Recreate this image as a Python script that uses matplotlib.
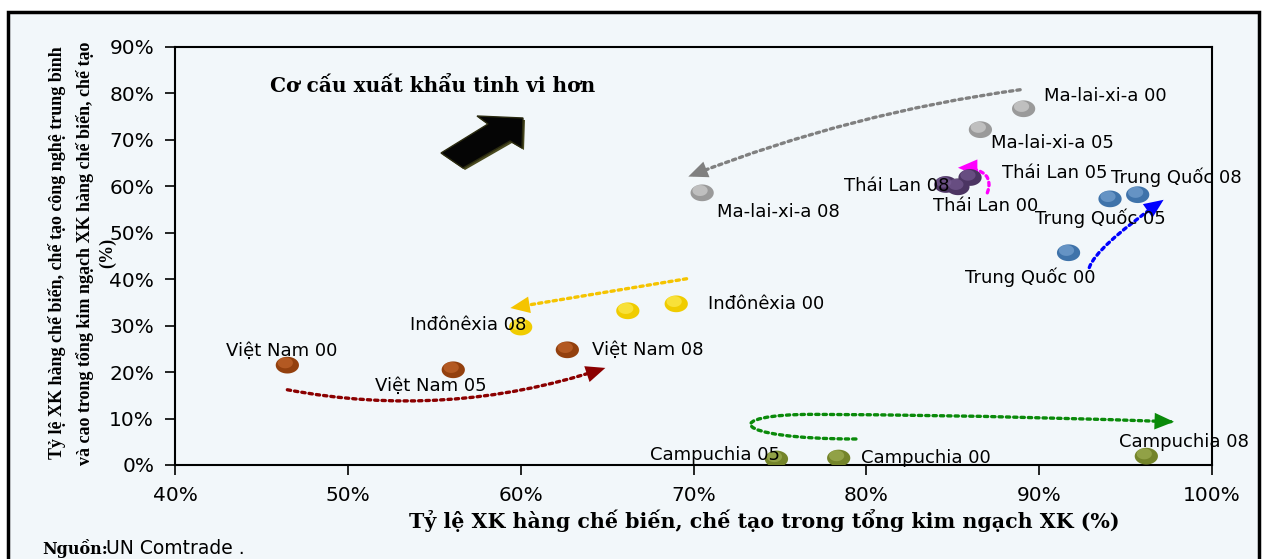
import numpy as np
import matplotlib.pyplot as plt
from matplotlib.patches import Rectangle, Polygon, FancyArrowPatch
from matplotlib.path import Path
from matplotlib.ticker import FuncFormatter

# data: share of manufactured exports (x) and medium/high-tech share (y), %
labels = ['Việt Nam 00', 'Việt Nam 05', 'Việt Nam 08',
          'Inđônêxia 00', '', 'Inđônêxia 08',
          'Ma-lai-xi-a 00', 'Ma-lai-xi-a 05', 'Ma-lai-xi-a 08',
          'Thái Lan 00', 'Thái Lan 05', 'Thái Lan 08',
          'Trung Quốc 00', 'Trung Quốc 05', 'Trung Quốc 08',
          'Campuchia 00', 'Campuchia 05', 'Campuchia 08']
x_manuf = [46.5, 56.1, 62.7,
           69.0, 66.2, 60.0,
           89.1, 86.6, 70.5,
           85.3, 86.0, 84.6,
           91.7, 94.1, 95.7,
           78.4, 74.8, 96.2]
y_tech = [21.5, 20.5, 24.8,
          34.7, 33.2, 29.7,
          76.7, 72.2, 58.6,
          59.9, 61.9, 60.4,
          45.7, 57.3, 58.2,
          1.5, 1.3, 1.9]
group = ['vn'] * 3 + ['id'] * 3 + ['my'] * 3 + ['th'] * 3 + ['cn'] * 3 + ['kh'] * 3

# styling
ball_col = {'vn': '#93400e', 'id': '#f0cc00', 'my': '#9a9a9a',
            'th': '#4b3462', 'cn': '#3f73aa', 'kh': '#74842a'}
hi_col = {'vn': '#c96a30', 'id': '#fff060', 'my': '#d8d8d8',
          'th': '#7a5f96', 'cn': '#7fa9d6', 'kh': '#a6b65a'}
# label offsets from the ball, pixels
lab_off = [(-61, 14), (-78, -16), (25, 0),
           (32, 0), (0, 0), (-111, 2),
           (20, 13), (11, -13), (15, -19),
           (-25, -19), (32, 5), (-102, -2),
           (-104, -25), (-75, -19), (-27, 17),
           (22, 0), (-126, 4), (-27, 14)]

# trend arrows (start -> end, in data units), connection style and colour
arrows = [((88.9, 80.8), (69.7, 62.1), 'arc3,rad=0.06', '#808080'),
          ((69.6, 40.1), (59.4, 33.8), 'arc3,rad=0', '#f5c400'),
          ((46.5, 16.2), (64.9, 20.9), 'arc3,rad=0.13', '#8b0000'),
          ((87.0, 58.6), (85.3, 64.0), 'angle3,angleA=70,angleB=0', '#ff00ff'),
          ((92.9, 42.5), (97.2, 57.1), 'angle3,angleA=72,angleB=35', '#0000ff')]
green_path = [(79.4, 5.6), (72.0, 5.6), (71.5, 11.0), (77.0, 10.9),
              (87.0, 10.7), (93.0, 9.9), (97.8, 9.3)]

bg = '#f2f7fa'
fig = plt.figure(figsize=(12.64, 5.59), dpi=100, facecolor='white')
fig.patches.append(Rectangle((8 / 1264, -0.05), 1251 / 1264, 1 - 12 / 559 + 0.05,
                             transform=fig.transFigure, facecolor=bg, edgecolor='black',
                             linewidth=2.5, zorder=-5))
ax = fig.add_axes([175 / 1264, 1 - 465 / 559, 1037 / 1264, 418 / 559])
ax.set_facecolor(bg)
ax.set_xlim(40, 100)
ax.set_ylim(0, 90)
ax.set_xticks(np.arange(40, 101, 10))
ax.set_yticks(np.arange(0, 91, 10))
pct = FuncFormatter(lambda v, p: '%d%%' % v)
ax.xaxis.set_major_formatter(pct)
ax.yaxis.set_major_formatter(pct)
ax.tick_params(direction='out', length=7, width=1.2, labelsize=14.5)
ax.tick_params(axis='y', pad=8)
ax.tick_params(axis='x', pad=8)
for s in ax.spines.values():
    s.set_linewidth(1.5)

# elliptical balls with a highlight
t = np.linspace(0, 2 * np.pi, 60)
ell = Path(np.column_stack([np.cos(t), 0.72 * np.sin(t)]), closed=True)
for gname in ball_col:
    xs = np.array([x for x, g in zip(x_manuf, group) if g == gname])
    ys = np.array([y for y, g in zip(y_tech, group) if g == gname])
    ax.scatter(xs, ys, s=280, marker=ell, color=ball_col[gname], edgecolor='none', zorder=3)
    ax.scatter(xs - 0.12, ys + 0.5, s=120, marker=ell, color=hi_col[gname],
               edgecolor='none', alpha=0.6, zorder=4)

for lab, x, y, off in zip(labels, x_manuf, y_tech, lab_off):
    if lab:
        ax.annotate(lab, (x, y), xytext=off, textcoords='offset pixels',
                    fontsize=13, va='center', ha='left', zorder=5,
                    fontfamily='DejaVu Sans')

# dotted body drawn on its own, solid filled head on top
dot = (0, (1, 1.2))
head = '-|>,head_length=1.4,head_width=0.6'
for (p0, p1, cs, c) in arrows:
    ax.annotate('', xy=p1, xytext=p0,
                arrowprops=dict(arrowstyle='-', color=c, lw=2.4, linestyle=dot,
                                shrinkA=0, shrinkB=4, connectionstyle=cs), zorder=2)
    ax.annotate('', xy=p1, xytext=p0,
                arrowprops=dict(arrowstyle=head, facecolor=c, edgecolor='none', lw=0,
                                shrinkA=0, shrinkB=0, connectionstyle=cs), zorder=2)

codes = [Path.MOVETO, Path.CURVE4, Path.CURVE4, Path.CURVE4,
         Path.CURVE4, Path.CURVE4, Path.CURVE4]
gpath = Path(green_path, codes)
ax.add_patch(FancyArrowPatch(path=gpath, transform=ax.transData, arrowstyle='-',
                             color='#0a8a0a', lw=2.4, linestyle=dot, zorder=2))
ax.add_patch(FancyArrowPatch(path=gpath, transform=ax.transData, arrowstyle=head,
                             mutation_scale=10, facecolor='#0a8a0a', edgecolor='none',
                             lw=0, zorder=2))

# big black arrow (pixels)
arrow_px = [(441, 153), (488, 124), (477, 116), (523, 118), (522, 148), (510, 141), (463, 168)]
ax_tr = fig.dpi_scale_trans
arrow_in = [(px / 100, (559 - py) / 100) for px, py in arrow_px]
fig.patches.append(Polygon([(a + 0.02, b - 0.02) for a, b in arrow_in], closed=True,
                           transform=ax_tr, facecolor='#4a4a20', edgecolor='none', zorder=6))
fig.patches.append(Polygon(arrow_in, closed=True, transform=ax_tr,
                           facecolor='#050505', edgecolor='#2a2a10', linewidth=1, zorder=7))

ax.text(45.5, 81.5, 'Cơ cấu xuất khẩu tinh vi hơn', fontsize=14.5, fontweight='bold',
        fontfamily='DejaVu Serif', va='center', ha='left')

fig.text(764 / 1264, 1 - 521 / 559,
         'Tỷ lệ XK hàng chế biến, chế tạo trong tổng kim ngạch XK (%)',
         fontsize=14.8, fontweight='bold', fontfamily='DejaVu Serif',
         ha='center', va='center')

ylab_lines = ['Tỷ lệ XK hàng chế biến, chế tạo công nghệ trung bình',
              'và cao trong tổng kim ngạch XK hàng chế biến, chế tạo', '(%)']
for line, px in zip(ylab_lines, [57, 85, 108]):
    fig.text(px / 1264, 1 - 253 / 559, line, rotation=90, fontsize=13,
             fontweight='bold', fontfamily='Liberation Serif', ha='center', va='center')

fig.text(42 / 1264, 1 - 549 / 559, 'Nguồn:', fontsize=11.5, fontweight='bold',
         fontfamily='DejaVu Serif', va='center')
fig.text(106 / 1264, 1 - 549 / 559, 'UN Comtrade .', fontsize=13.5,
         fontfamily='DejaVu Sans', va='center')

fig.savefig('out.png', dpi=100, facecolor='white')
